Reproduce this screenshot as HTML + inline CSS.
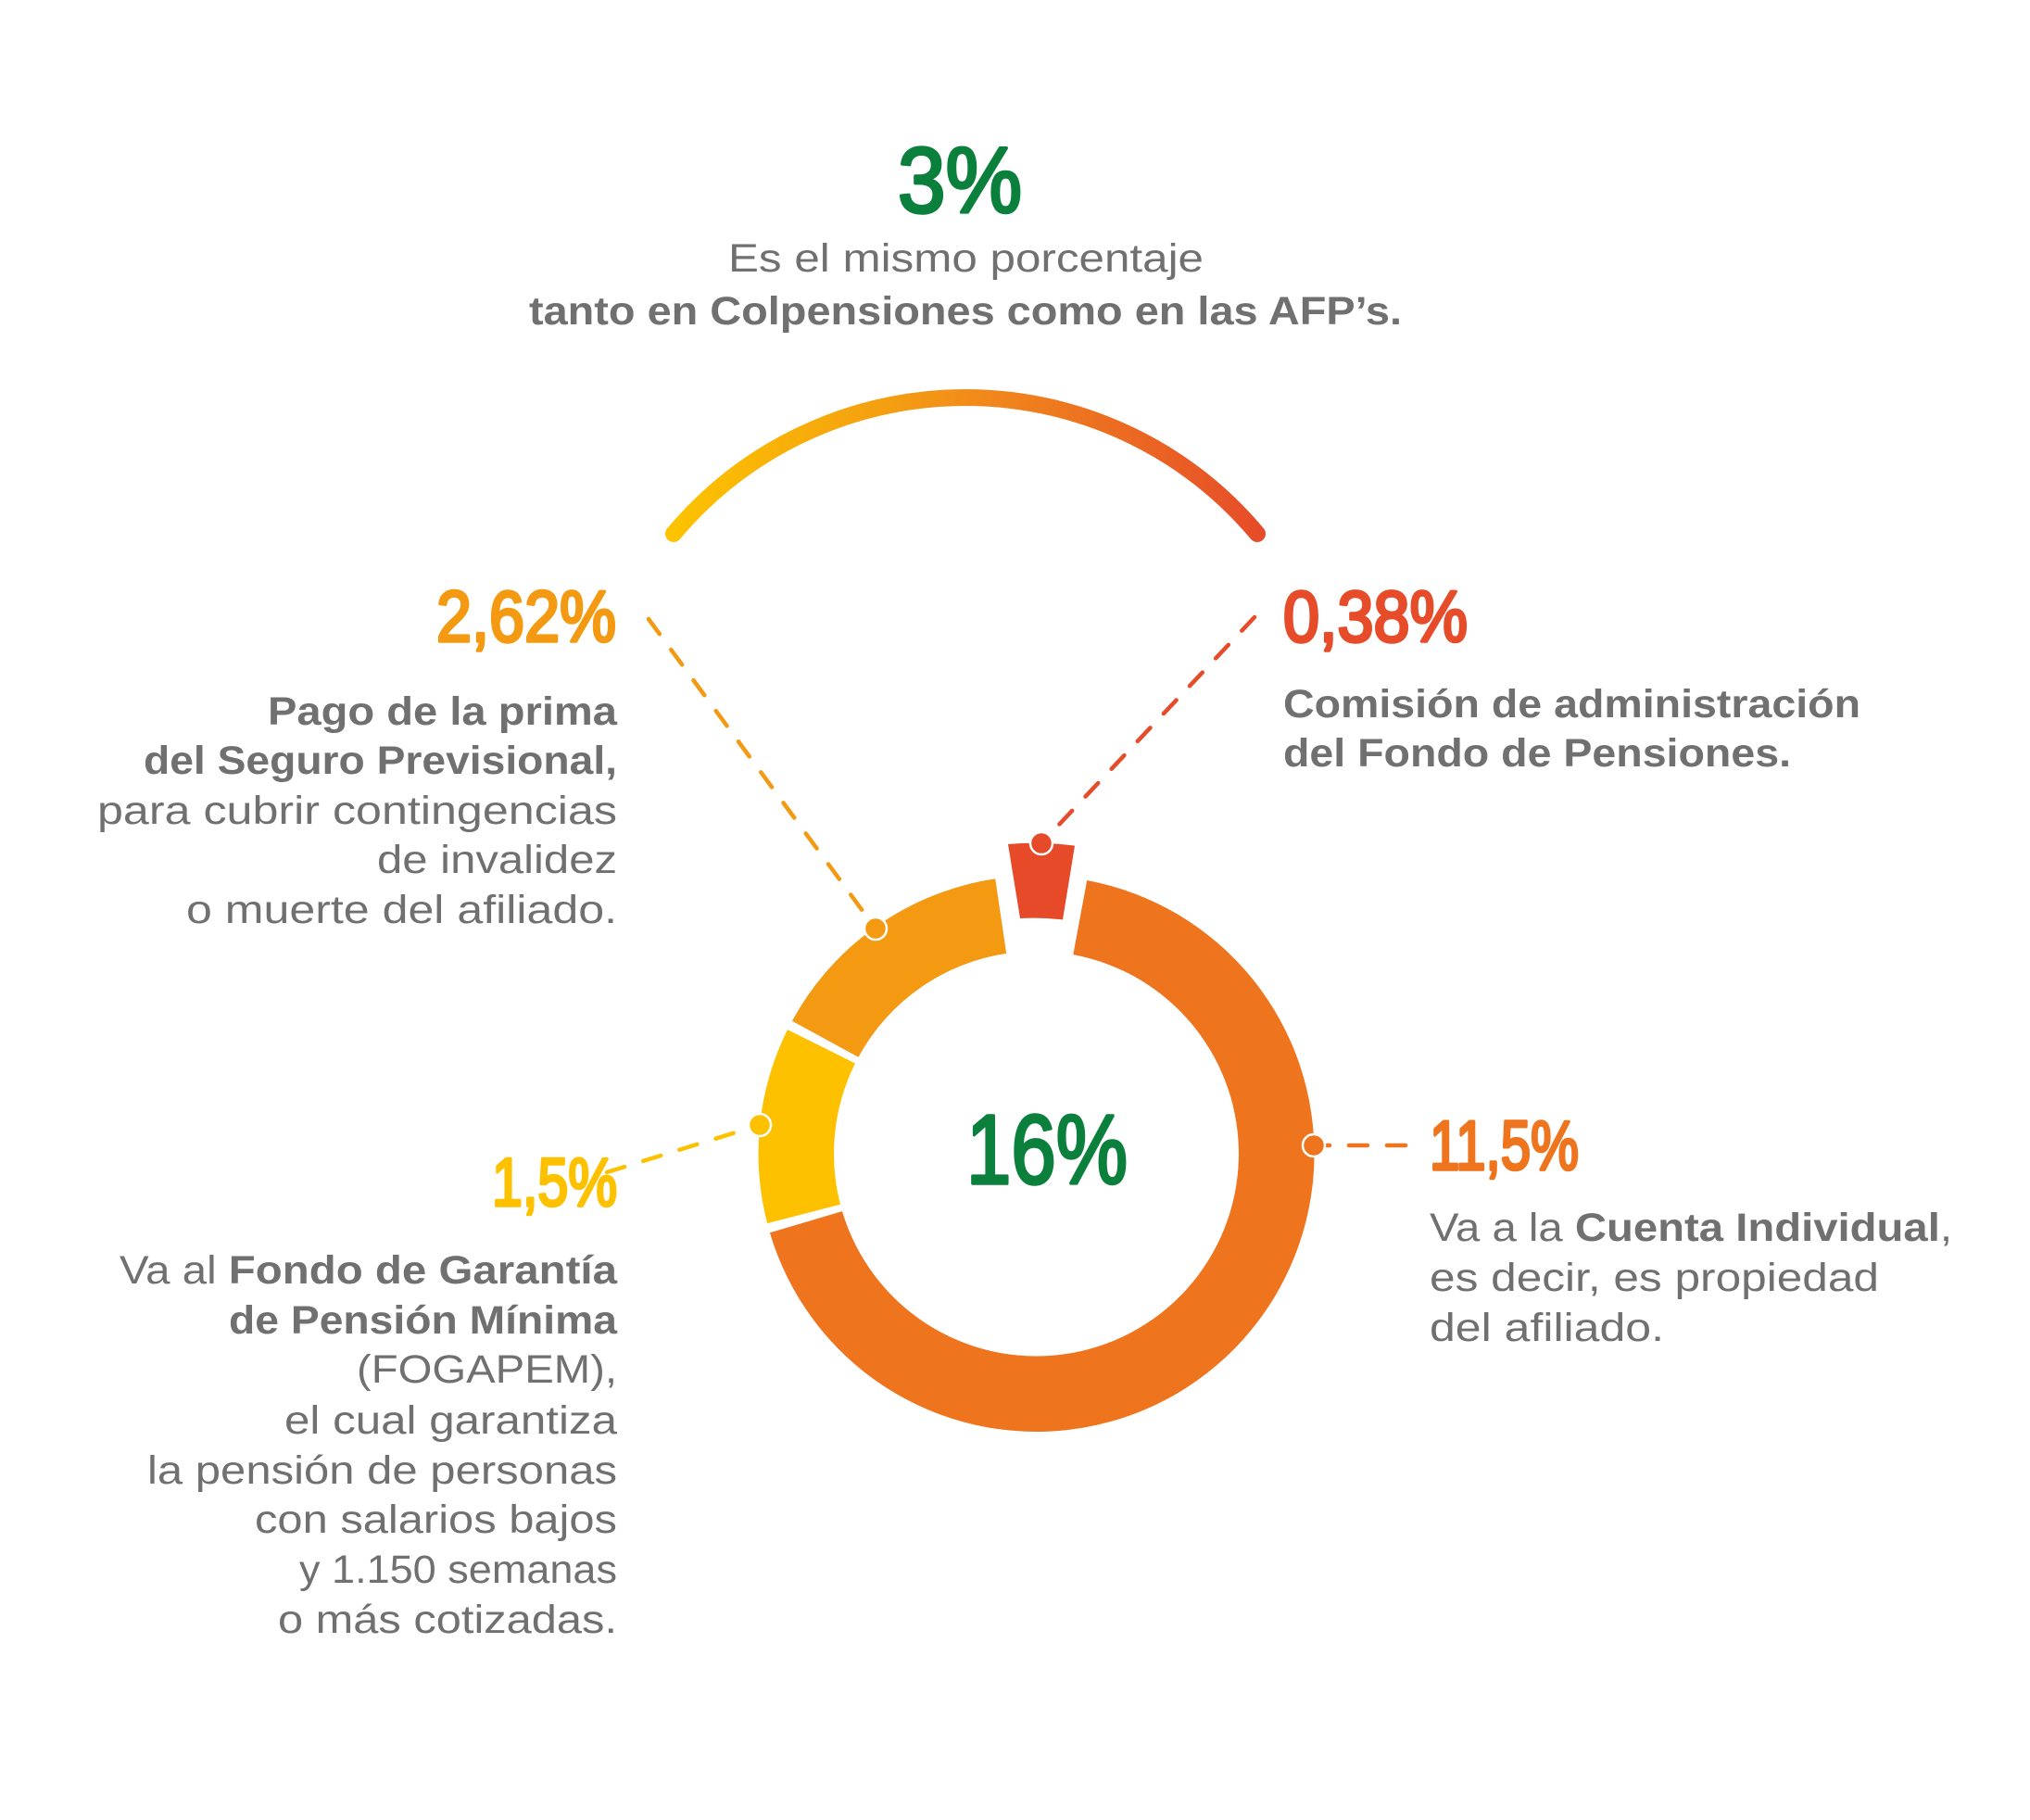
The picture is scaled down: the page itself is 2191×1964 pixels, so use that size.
<!DOCTYPE html>
<html><head><meta charset="utf-8"><style>
html,body{margin:0;padding:0;background:#fff;}
svg{display:block;}
text{font-family:"Liberation Sans",sans-serif;}
.g{fill:#707070;font-size:43px;}
.b{font-weight:bold;}
.n{font-weight:normal;stroke-width:3.5px;stroke-linejoin:round;}
</style></head><body>
<svg width="2191" height="1964" viewBox="0 0 2191 1964" xmlns="http://www.w3.org/2000/svg">
<defs>
<linearGradient id="ag" gradientUnits="userSpaceOnUse" x1="725" y1="0" x2="1362" y2="0">
<stop offset="0" stop-color="#fdc300"/><stop offset="0.35" stop-color="#f4a011"/><stop offset="0.62" stop-color="#ef7d1e"/><stop offset="1" stop-color="#e64c29"/>
</linearGradient>
</defs>
<rect width="2191" height="1964" fill="#fff"/>

<text x="969" y="229" class="n" fill="#0a803c" stroke="#0a803c" font-size="100" textLength="134" lengthAdjust="spacingAndGlyphs">3%</text>
<text x="786" y="293" class="g" font-size="42" textLength="513" lengthAdjust="spacingAndGlyphs">Es el mismo porcentaje</text>
<text x="571" y="350" class="g b" font-size="42" textLength="942" lengthAdjust="spacingAndGlyphs">tanto en Colpensiones como en las AFP’s.</text>

<path d="M 727 576 A 411 411 0 0 1 1357 576" fill="none" stroke="url(#ag)" stroke-width="18" stroke-linecap="round"/>

<g fill="none" stroke-width="4.5" stroke-linecap="round" stroke-dasharray="20 21">
<line x1="1354" y1="666" x2="1124" y2="910" stroke="#e64c29"/>
<line x1="700" y1="668" x2="945" y2="1002" stroke="#f39a12"/>
<line x1="655" y1="1265" x2="820" y2="1214" stroke="#fdc100"/>
<line x1="1517" y1="1236" x2="1418" y2="1236" stroke="#ef741e"/>
</g>

<path d="M 1173.2 950.0 A 300 300 0 1 1 830.9 1330.2 L 909.0 1307.1 A 218.5 218.5 0 1 0 1158.3 1030.1 Z" fill="#ef741e"/>
<path d="M 828.1 1320.1 A 300 300 0 0 1 850.0 1111.1 L 923.0 1147.5 A 218.5 218.5 0 0 0 907.0 1299.7 Z" fill="#fdc100"/>
<path d="M 854.9 1101.8 A 300 300 0 0 1 1074.2 948.3 L 1086.2 1028.9 A 218.5 218.5 0 0 0 926.5 1140.7 Z" fill="#f39a12"/>
<path d="M 1088 911 A 335 335 0 0 1 1160 912.6 L 1147 992.5 A 254.6 254.6 0 0 0 1101 991 Z" fill="#e64a29"/>

<g stroke="#fff" stroke-width="2.5">
<circle cx="1124" cy="910" r="12" fill="#e64a29"/>
<circle cx="945" cy="1002" r="12" fill="#f39a12"/>
<circle cx="820" cy="1214" r="12" fill="#fdc100"/>
<circle cx="1418" cy="1236" r="12" fill="#ef741e"/>
</g>

<text x="1043" y="1277" class="n" fill="#0a803c" stroke="#0a803c" font-size="106" textLength="174" lengthAdjust="spacingAndGlyphs">16%</text>

<text x="471" y="692" class="n" fill="#f39a12" stroke="#f39a12" font-size="78" textLength="194" lengthAdjust="spacingAndGlyphs">2,62%</text>
<g text-anchor="end">
<text x="666" y="782" class="g b" textLength="377" lengthAdjust="spacingAndGlyphs">Pago de la prima</text>
<text x="666" y="835" class="g b" textLength="511" lengthAdjust="spacingAndGlyphs">del Seguro Previsional,</text>
<text x="666" y="889" class="g" textLength="561" lengthAdjust="spacingAndGlyphs">para cubrir contingencias</text>
<text x="666" y="942" class="g" textLength="259" lengthAdjust="spacingAndGlyphs">de invalidez</text>
<text x="666" y="996" class="g" textLength="465" lengthAdjust="spacingAndGlyphs">o muerte del afiliado.</text>
</g>

<text x="1385" y="692" class="n" fill="#e64c29" stroke="#e64c29" font-size="78" textLength="199" lengthAdjust="spacingAndGlyphs">0,38%</text>
<text x="1385" y="774" class="g b" textLength="623" lengthAdjust="spacingAndGlyphs">Comisión de administración</text>
<text x="1385" y="827" class="g b" textLength="548" lengthAdjust="spacingAndGlyphs">del Fondo de Pensiones.</text>

<text x="1543" y="1262" class="n" fill="#ef741e" stroke="#ef741e" font-size="75" textLength="161" lengthAdjust="spacingAndGlyphs">11,5%</text>
<text x="1543" y="1339" class="g" textLength="564" lengthAdjust="spacingAndGlyphs">Va a la <tspan class="b">Cuenta Individual</tspan>,</text>
<text x="1543" y="1393" class="g" textLength="485" lengthAdjust="spacingAndGlyphs">es decir, es propiedad</text>
<text x="1543" y="1447" class="g" textLength="253" lengthAdjust="spacingAndGlyphs">del afiliado.</text>

<text x="531" y="1301" class="n" fill="#fdc100" stroke="#fdc100" font-size="73" textLength="135" lengthAdjust="spacingAndGlyphs">1,5%</text>
<g text-anchor="end">
<text x="666" y="1385" class="g" textLength="537" lengthAdjust="spacingAndGlyphs">Va al <tspan class="b">Fondo de Garantía</tspan></text>
<text x="666" y="1439" class="g b" textLength="419" lengthAdjust="spacingAndGlyphs">de Pensión Mínima</text>
<text x="666" y="1492" class="g" textLength="281" lengthAdjust="spacingAndGlyphs">(FOGAPEM),</text>
<text x="666" y="1547" class="g" textLength="359" lengthAdjust="spacingAndGlyphs">el cual garantiza</text>
<text x="666" y="1601" class="g" textLength="507" lengthAdjust="spacingAndGlyphs">la pensión de personas</text>
<text x="666" y="1654" class="g" textLength="391" lengthAdjust="spacingAndGlyphs">con salarios bajos</text>
<text x="666" y="1708" class="g" textLength="343" lengthAdjust="spacingAndGlyphs">y 1.150 semanas</text>
<text x="666" y="1762" class="g" textLength="366" lengthAdjust="spacingAndGlyphs">o más cotizadas.</text>
</g>
</svg>
</body></html>
